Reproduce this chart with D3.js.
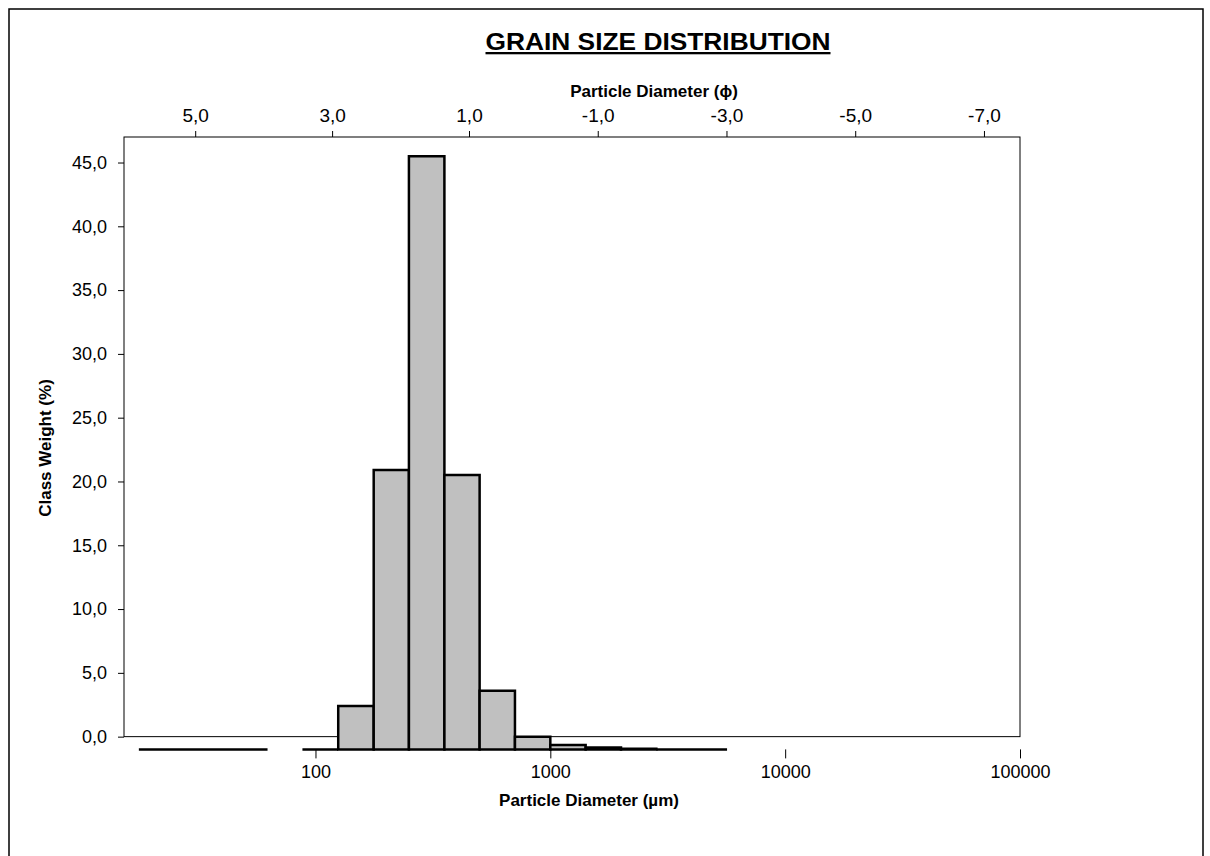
<!DOCTYPE html>
<html lang="en">
	<head>
		<meta charset="utf-8">
		<title>Grain size distribution</title>
		<script type="text/javascript" src="https://cdn.jsdelivr.net/npm/d3@7"></script>
		<style type="text/css">
			body { margin: 0; background: #fff; }
			text { font-family: "Liberation Sans", Arial, sans-serif; fill: #000; }
		</style>
	</head>
	<body>
		<script type="text/javascript">

			// sieve classes, lower and upper edge in micrometres
			var binLow  = [17.7, 88, 125, 177, 250, 354, 500, 707, 1000, 1414, 2000, 2828];
			var binHigh = [62.5, 125, 177, 250, 354, 500, 707, 1000, 1414, 2000, 2828, 5657];
			// class weight (%)
			var weights = [-1.0, -1.0, 2.4, 20.9, 45.5, 20.5, 3.6, 0.0, -0.65, -0.86, -0.94, -1.0];

			var yTicks = [0, 5, 10, 15, 20, 25, 30, 35, 40, 45];
			var umTicks = [100, 1000, 10000, 100000];
			var phiTicks = [5, 3, 1, -1, -3, -5, -7];

			var w = 1210;
			var h = 856;
			var plotLeft = 124, plotRight = 1020, plotTop = 137;

			var comma = function(d) {
				return d3.format(".1f")(d).replace(".", ",").replace("\u2212", "-");
			};

			var xScale = d3.scaleLog()
						   .domain([15.3, 100000])
						   .range([plotLeft, plotRight]);

			// the phi axis in the original is not quite even, so it gets a bend at 1,0
			var phiScale = d3.scaleLinear()
						   .domain([6.04, 1, -7.56])
						   .range([plotLeft, 469, plotRight]);

			var yScale = d3.scaleLinear()
						   .domain([-1, 47])
						   .range([749.4, plotTop]);

			var svg = d3.select("body")
						.append("svg")
						.attr("width", w)
						.attr("height", h);

			// outer chart border
			svg.append("rect")
			   .attr("x", 9).attr("y", 9)
			   .attr("width", 1194).attr("height", 870)
			   .attr("fill", "none")
			   .attr("stroke", "#000")
			   .attr("stroke-width", 1.5);

			// plot frame
			svg.append("rect")
			   .attr("x", plotLeft).attr("y", yScale(47))
			   .attr("width", plotRight - plotLeft)
			   .attr("height", yScale(0) - yScale(47))
			   .attr("fill", "none")
			   .attr("stroke", "#000")
			   .attr("stroke-width", 1);

			// bars as closed paths so empty classes still show as a line
			svg.selectAll("path.bar")
			   .data(weights)
			   .enter()
			   .append("path")
			   .attr("class", "bar")
			   .attr("d", function(d, i) {
			   		var x0 = xScale(binLow[i]), x1 = xScale(binHigh[i]);
			   		var y0 = yScale(-1), y1 = yScale(d);
			   		return "M" + x0 + "," + y0 + "V" + y1 + "H" + x1 + "V" + y0 + "Z";
			   })
			   .attr("fill", "#c0c0c0")
			   .attr("stroke", "#000")
			   .attr("stroke-width", 2.5);

			//Y axis
			var yAxis = d3.axisLeft(yScale)
						  .tickValues(yTicks)
						  .tickSize(6)
						  .tickPadding(11)
						  .tickFormat(comma);
			var gy = svg.append("g")
				.attr("transform", "translate(" + plotLeft + ",0)")
				.call(yAxis);

			//Top axis in phi
			var topAxis = d3.axisTop(phiScale)
							.tickValues(phiTicks)
							.tickSize(6)
							.tickPadding(9)
							.tickFormat(comma);
			var gt = svg.append("g")
				.attr("transform", "translate(0," + plotTop + ")")
				.call(topAxis);

			//Bottom axis in micrometres
			var xAxis = d3.axisBottom(xScale)
						  .tickValues(umTicks)
						  .tickSize(9)
						  .tickPadding(7)
						  .tickFormat(d3.format("d"));
			var gx = svg.append("g")
				.attr("transform", "translate(0," + yScale(-1) + ")")
				.call(xAxis);

			[gy, gt, gx].forEach(function(g) {
				g.select(".domain").remove();
				g.selectAll("line").attr("stroke", "#000");
				g.selectAll("text")
				 .style("font-size", "18px")
				 .style("font-family", "'Liberation Sans', Arial, sans-serif");
			});
			gt.selectAll("text").style("font-size", "19px");

			// titles
			svg.append("text")
			   .attr("x", 658).attr("y", 50)
			   .attr("text-anchor", "middle")
			   .attr("textLength", 345)
			   .attr("lengthAdjust", "spacingAndGlyphs")
			   .style("font-size", "23px")
			   .style("font-weight", "bold")
			   .style("text-decoration", "underline")
			   .text("GRAIN SIZE DISTRIBUTION");

			svg.append("text")
			   .attr("x", 654).attr("y", 97)
			   .attr("text-anchor", "middle")
			   .style("font-size", "17px")
			   .style("font-weight", "bold")
			   .text("Particle Diameter (\u03d5)");

			svg.append("text")
			   .attr("x", 589).attr("y", 806)
			   .attr("text-anchor", "middle")
			   .style("font-size", "17px")
			   .style("font-weight", "bold")
			   .text("Particle Diameter (\u00b5m)");

			svg.append("text")
			   .attr("transform", "translate(51,448) rotate(-90)")
			   .attr("text-anchor", "middle")
			   .style("font-size", "17px")
			   .style("font-weight", "bold")
			   .text("Class Weight (%)");

		</script>
	</body>
</html>
